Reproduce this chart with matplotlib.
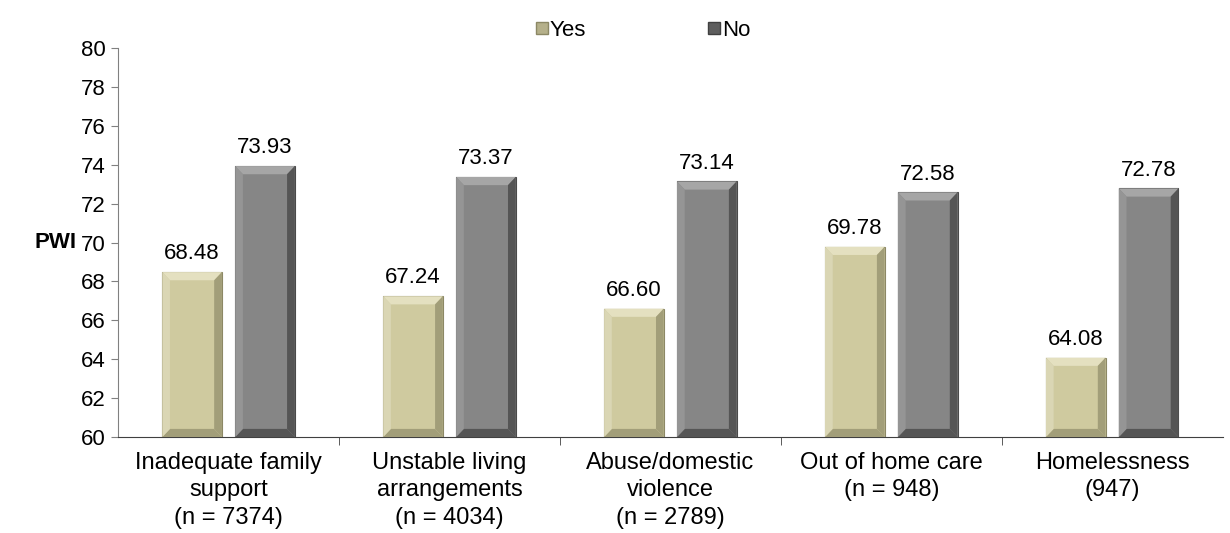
import numpy as np
import matplotlib.pyplot as plt
from matplotlib.patches import Polygon, Patch

plt.rcParams['font.family'] = ['Liberation Sans', 'DejaVu Sans']

categories = ["Inadequate family\nsupport\n(n = 7374)",
              "Unstable living\narrangements\n(n = 4034)",
              "Abuse/domestic\nviolence\n(n = 2789)",
              "Out of home care\n(n = 948)",
              "Homelessness\n(947)"]
yes_vals = [68.48, 67.24, 66.60, 69.78, 64.08]
no_vals = [73.93, 73.37, 73.14, 72.58, 72.78]

ymin, ymax = 60, 80
col_yes = "#cfca9f"
col_no = "#868686"
fs = 16

fig = plt.figure(figsize=(12.3, 5.33), dpi=100)
ax = fig.add_axes([0.096, 0.18, 0.898, 0.73])

x = np.arange(len(categories))
w = 0.27
off = 0.165

def bevel(xs, tops, light, dark, side):
    # imitation du biseau des barres
    bx = 0.035
    by = 0.42
    for x0, y1 in zip(xs, tops):
        x1 = x0 + w
        y0 = ymin
        ax.add_patch(Polygon([[x0, y1], [x1, y1], [x1 - bx, y1 - by], [x0 + bx, y1 - by]],
                             closed=True, fc=light, ec="none", zorder=3))
        ax.add_patch(Polygon([[x0, y0], [x1, y0], [x1 - bx, y0 + by], [x0 + bx, y0 + by]],
                             closed=True, fc=dark, ec="none", zorder=3))
        ax.add_patch(Polygon([[x1, y0], [x1, y1], [x1 - bx, y1 - by], [x1 - bx, y0 + by]],
                             closed=True, fc=dark, ec="none", zorder=3))
        ax.add_patch(Polygon([[x0, y0], [x0, y1], [x0 + bx, y1 - by], [x0 + bx, y0 + by]],
                             closed=True, fc=side, ec="none", zorder=3))

b1 = ax.bar(x - off, np.array(yes_vals) - ymin, w, bottom=ymin, color=col_yes,
            edgecolor="#8c8865", linewidth=0.8, zorder=2)
b2 = ax.bar(x + off, np.array(no_vals) - ymin, w, bottom=ymin, color=col_no,
            edgecolor="#4a4a4a", linewidth=0.8, zorder=2)

bevel([b.get_x() for b in b1], yes_vals, "#e4e0c0", "#a29e79", "#dad6b4")
bevel([b.get_x() for b in b2], no_vals, "#a6a6a6", "#555555", "#959595")

for xi, v in zip(x, yes_vals):
    ax.text(xi - off, v + 0.4, f"{v:.2f}", ha="center", va="bottom", fontsize=fs)
for xi, v in zip(x, no_vals):
    ax.text(xi + off, v + 0.4, f"{v:.2f}", ha="center", va="bottom", fontsize=fs)

ax.set_ylim(ymin, ymax)
ax.set_xlim(-0.5, len(categories) - 0.5)
ax.set_yticks(np.arange(60, 81, 2))
ax.tick_params(axis="y", labelsize=fs, length=5, color="#808080", pad=4)
ax.set_xticks(x)
ax.set_xticklabels(categories, fontsize=17, linespacing=1.3)
ax.set_xticks(np.arange(0.5, len(categories) - 0.5, 1), minor=True)
ax.tick_params(axis="x", which="major", length=0, pad=11)
ax.tick_params(axis="x", which="minor", length=6, color="#404040")

for s in ["top", "right"]:
    ax.spines[s].set_visible(False)
ax.spines["left"].set_color("#808080")
ax.spines["bottom"].set_color("#404040")

fig.text(0.045, 0.18 + 0.73 * 0.5, "PWI", fontsize=fs, fontweight="bold",
         ha="center", va="center")

handles = [Patch(fc="#b5b08a", ec="#8c8865"), Patch(fc="#5e5e5e", ec="#404040")]
fig.legend(handles, ["Yes", "No"], loc="upper center", bbox_to_anchor=(0.523, 1.0),
           ncol=2, frameon=False, fontsize=fs, handlelength=0.5, handleheight=0.5,
           handletextpad=0.1, columnspacing=5.5)

fig.savefig("out.png", dpi=100)
